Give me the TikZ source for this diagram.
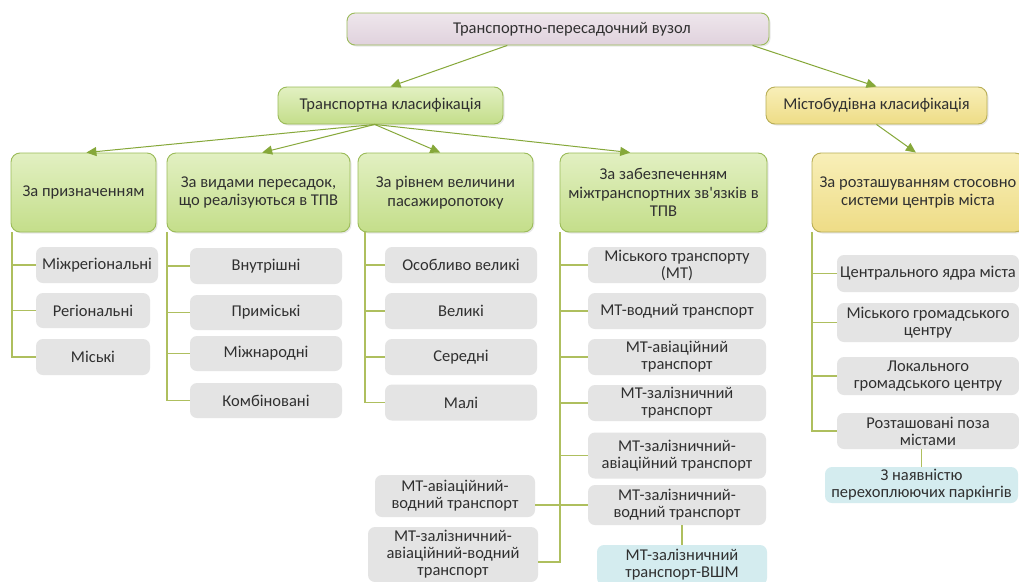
\documentclass[tikz,border=0pt]{standalone}
\usepackage{fontspec}
\setmainfont{Carlito}
\usetikzlibrary{arrows.meta,calc,shadows}
\definecolor{txt}{HTML}{303030}
\definecolor{gtop}{HTML}{E2F0C2}
\definecolor{gbot}{HTML}{C4DE8A}
\definecolor{gbrd}{HTML}{9BBB59}
\definecolor{ytop}{HTML}{F8EFB8}
\definecolor{ybot}{HTML}{EEDC86}
\definecolor{ybrd}{HTML}{B8AE55}
\definecolor{ptop}{HTML}{EEE6EC}
\definecolor{pbot}{HTML}{E0D2DD}
\definecolor{grayfill}{HTML}{E4E4E4}
\definecolor{cyanfill}{HTML}{D4ECEF}
\definecolor{arrc}{HTML}{86A83A}
\definecolor{linec}{HTML}{AEBF5E}
\begin{document}
\begin{tikzpicture}[x=1pt,y=-1pt,
  font=\fontsize{16.5}{17}\selectfont, text=txt,
  basebox/.style={align=center, inner sep=2pt},
  topbox/.style={basebox, rounded corners=8pt, draw=gbrd, line width=0.9pt, top color=ptop, bottom color=pbot,
     drop shadow={opacity=0.18, shadow xshift=1.5pt, shadow yshift=-1.5pt}},
  gbox/.style={basebox, font=\fontsize{16.5}{18.5}\selectfont, rounded corners=9pt, draw=gbrd, line width=0.9pt, top color=gtop, bottom color=gbot,
     drop shadow={opacity=0.18, shadow xshift=1.5pt, shadow yshift=-1.5pt}},
  ybox/.style={basebox, font=\fontsize{16.5}{17.5}\selectfont, rounded corners=9pt, draw=ybrd, line width=0.9pt, top color=ytop, bottom color=ybot,
     drop shadow={opacity=0.18, shadow xshift=1.5pt, shadow yshift=-1.5pt}},
  item/.style={basebox, rounded corners=7pt, fill=grayfill},
  citem/.style={basebox, rounded corners=7pt, fill=cyanfill},
  arr/.style={draw=arrc, line width=1pt, -{Triangle[length=10pt,width=9pt,fill=arrc]}},
  tline/.style={draw=linec, line width=1.3pt}
]
\useasboundingbox (0,0) rectangle (1019,581);
\fill[white] (0,0) rectangle (1019,581);

% level 0 / 1
\node[topbox, minimum width=422pt, minimum height=32pt] (top) at (558,29) {\hspace*{28pt}Транспортно-пересадочний вузол};
\node[gbox, minimum width=225pt, minimum height=37pt] (tk) at (390.5,105.5) {Транспортна класифікація};
\node[ybox, minimum width=221pt, minimum height=37pt] (mk) at (876.5,105.5) {Містобудівна класифікація};

% level 2
\node[gbox, minimum width=145pt, minimum height=79pt] (g1) at (83.5,192.5) {За призначенням};
\node[gbox, minimum width=183pt, minimum height=79pt] (g2) at (258.5,192.5) {За видами пересадок,\\що реалізуються в ТПВ};
\node[gbox, minimum width=175pt, minimum height=79pt] (g3) at (445.5,192.5) {За рівнем величини\\пасажиропотоку};
\node[gbox, minimum width=207pt, minimum height=79pt] (g4) at (663.5,192.5) {За забезпеченням\\міжтранспортних зв\textquotesingle язків в\\ТПВ};
\node[ybox, minimum width=212pt, minimum height=79pt] (y5) at (918,192.5) {За розташуванням стосовно\\системи центрів міста};

% column 1
\node[item, minimum width=122pt, minimum height=36pt] (c1a) at (97,265) {Міжрегіональні};
\node[item, minimum width=114pt, minimum height=35pt] (c1b) at (93,310.5) {Регіональні};
\node[item, minimum width=114pt, minimum height=36pt] (c1c) at (93,357) {Міські};

% column 2
\node[item, minimum width=152pt, minimum height=36pt] (c2a) at (266,266) {Внутрішні};
\node[item, minimum width=152pt, minimum height=35pt] (c2b) at (266,312.5) {Приміські};
\node[item, minimum width=152pt, minimum height=35pt] (c2c) at (266,353.5) {Міжнародні};
\node[item, minimum width=152pt, minimum height=35pt] (c2d) at (266,400.5) {Комбіновані};

% column 3
\node[item, minimum width=152pt, minimum height=36pt] (c3a) at (461,265) {Особливо великі};
\node[item, minimum width=152pt, minimum height=36pt] (c3b) at (461,311) {Великі};
\node[item, minimum width=152pt, minimum height=36pt] (c3c) at (461,357) {Середні};
\node[item, minimum width=152pt, minimum height=36pt] (c3d) at (461,402.5) {Малі};

% column 4
\node[item, minimum width=178pt, minimum height=36pt] (c4a) at (677,265) {Міського транспорту\\(МТ)};
\node[item, minimum width=178pt, minimum height=36pt] (c4b) at (677,311) {МТ-водний транспорт};
\node[item, minimum width=178pt, minimum height=36pt] (c4c) at (677,357) {МТ-авіаційний\\транспорт};
\node[item, minimum width=178pt, minimum height=36pt] (c4d) at (677,403) {МТ-залізничний\\транспорт};
\node[item, minimum width=178pt, minimum height=46pt] (c4e) at (677,455.5) {МТ-залізничний-\\авіаційний транспорт};
\node[item, minimum width=178pt, minimum height=40pt] (c4f) at (677,505) {МТ-залізничний-\\водний транспорт};
\node[citem, minimum width=170pt, minimum height=40pt] (c4g) at (682,565) {МТ-залізничний\\транспорт-ВШМ};
\node[item, minimum width=160pt, minimum height=42pt] (l1) at (455,496) {МТ-авіаційний-\\водний транспорт};
\node[item, minimum width=170pt, minimum height=55pt] (l2) at (453,554.5) {МТ-залізничний-\\авіаційний-водний\\транспорт};

% column 5
\node[item, minimum width=182pt, minimum height=37pt] (c5a) at (928,273.5) {Центрального ядра міста};
\node[item, minimum width=182pt, minimum height=39pt] (c5b) at (928,322.5) {Міського громадського\\центру};
\node[item, minimum width=182pt, minimum height=38pt] (c5c) at (928,376) {Локального\\громадського центру};
\node[item, minimum width=182pt, minimum height=36pt] (c5d) at (928,431) {Розташовані поза\\містами};
\node[citem, minimum width=193pt, minimum height=36pt] (c5e) at (921.5,485) {З наявністю\\перехоплюючих паркінгів};

% arrows
\draw[arr] ($(top.south west)!0.38!(top.south east)$) -- (tk.north);
\draw[arr] ($(top.south west)!0.96!(top.south east)$) -- (mk.north);
\coordinate (tks) at ($(tk.south west)!0.43!(tk.south east)$);
\draw[arr] (tks) -- ($(g1.north west)!0.52!(g1.north east)$);
\draw[arr] (tks) -- ($(g2.north west)!0.52!(g2.north east)$);
\draw[arr] (tks) -- ($(g3.north west)!0.47!(g3.north east)$);
\draw[arr] (tks) -- ($(g4.north west)!0.34!(g4.north east)$);
\draw[arr] (mk.south) -- ($(y5.north west)!0.49!(y5.north east)$);

% tree lines
\coordinate (t1) at (12,232);
\coordinate (t2) at (167,232);
\coordinate (t3) at (365,232);
\coordinate (t4) at (560,232);
\coordinate (t5) at (812,232);
\coordinate (t4end) at (560,562);

\draw[tline] (t1) |- (c1c.west);
\foreach \n in {c1a,c1b} \draw[tline] (\n.west) -- (\n.west -| t1);
\draw[tline] (t2) |- (c2d.west);
\foreach \n in {c2a,c2b,c2c} \draw[tline] (\n.west) -- (\n.west -| t2);
\draw[tline] (t3) |- (c3d.west);
\foreach \n in {c3a,c3b,c3c} \draw[tline] (\n.west) -- (\n.west -| t3);
\draw[tline] (t4) -- (t4end) -- (t4end -| l2.east);
\foreach \n in {c4a,c4b,c4c,c4d,c4e} \draw[tline] (\n.west) -- (\n.west -| t4);
\draw[tline] (c4f.west) -- (c4f.west -| l1.east);
\draw[tline] (c4g.north) -- (c4g.north |- c4f.south);
\draw[tline] (t5) |- (c5d.west);
\foreach \n in {c5a,c5b,c5c} \draw[tline] (\n.west) -- (\n.west -| t5);
\draw[tline] (c5e.north) -- (c5e.north |- c5d.south);
\end{tikzpicture}
\end{document}
